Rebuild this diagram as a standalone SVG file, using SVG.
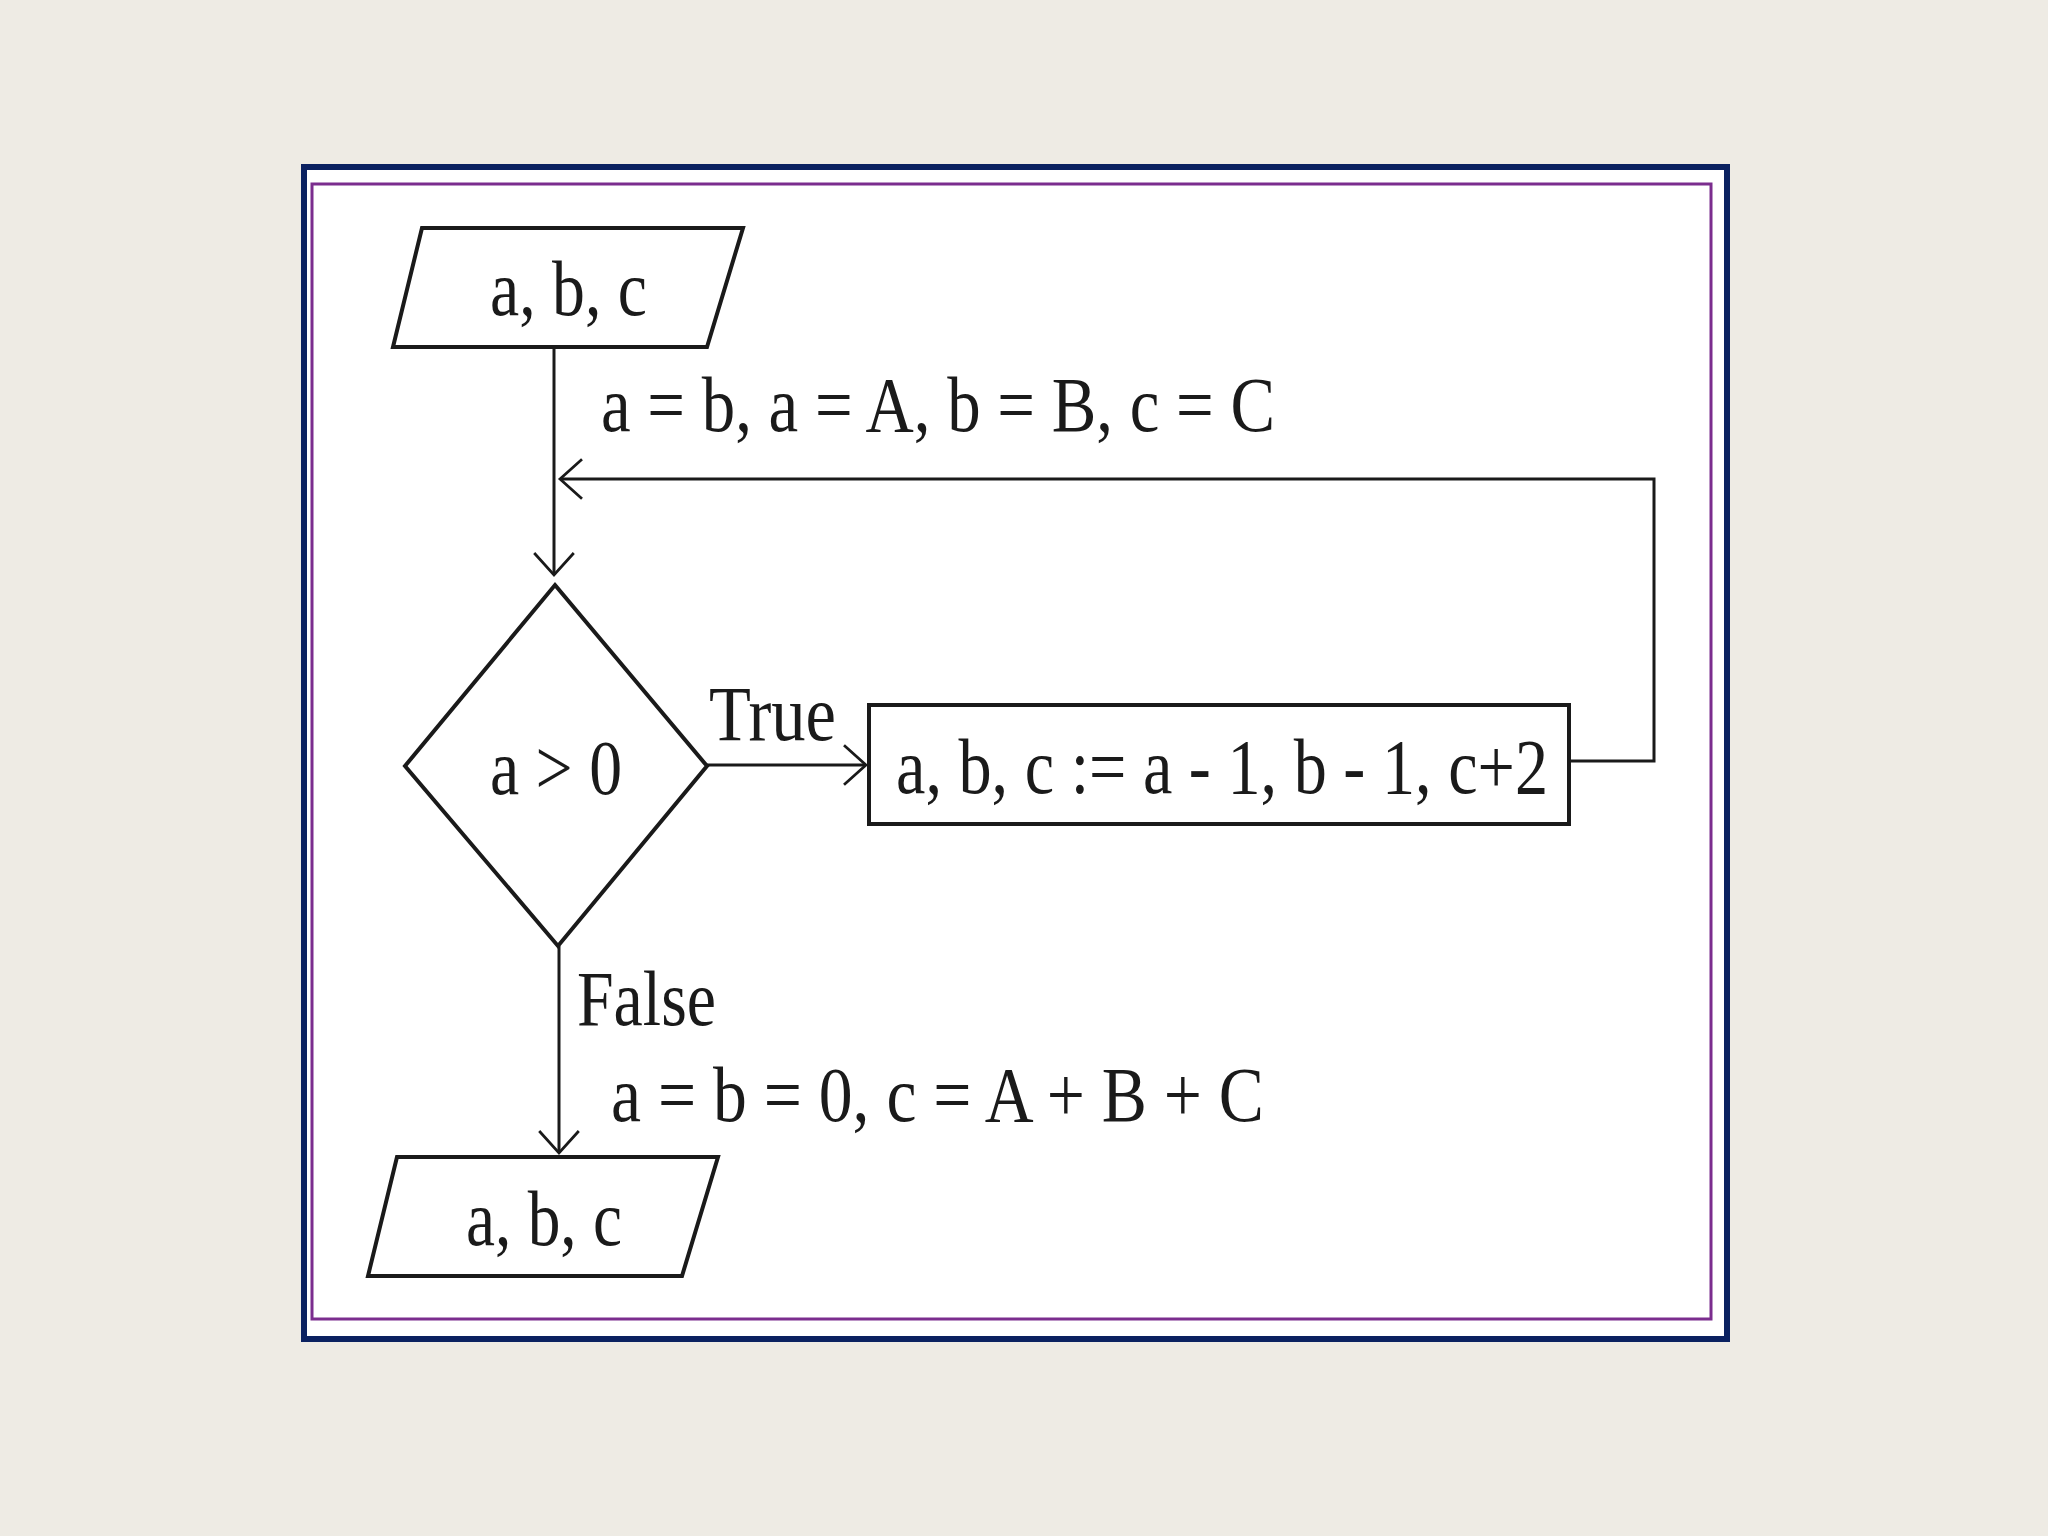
<svg xmlns="http://www.w3.org/2000/svg" width="2048" height="1536" viewBox="0 0 2048 1536">
<defs>
<style>
.shape{fill:#ffffff;stroke:#1a1a1a;stroke-width:4}
.conn{fill:none;stroke:#1a1a1a;stroke-width:3}
.t{font-family:"Liberation Serif","DejaVu Serif",serif;font-size:78px;fill:#1a1a1a}
</style>
<marker id="arr" markerUnits="userSpaceOnUse" markerWidth="44" markerHeight="44" viewBox="-2 -2 26 40" refX="20" refY="18" orient="auto">
<path d="M0,0 L20,18 L0,36" fill="none" stroke="#1a1a1a" stroke-width="2.5"/>
</marker>
</defs>
<rect x="0" y="0" width="2048" height="1536" fill="#eeebe4"/>
<rect x="304" y="167" width="1423" height="1172" fill="#ffffff" stroke="#0b2160" stroke-width="6"/>
<rect x="312" y="184" width="1399" height="1135" fill="#ffffff" stroke="#7b2d8e" stroke-width="3"/>

<g id="connectors">
<path class="conn" d="M554,347 V575" marker-end="url(#arr)"/>
<path class="conn" d="M1569,761 H1654 V479 H560" marker-end="url(#arr)"/>
<path class="conn" d="M707,765 H866" marker-end="url(#arr)"/>
<path class="conn" d="M559,946 V1153" marker-end="url(#arr)"/>
<text class="t" x="601" y="431" textLength="674" lengthAdjust="spacingAndGlyphs">a = b, a = A, b = B, c = C</text>
<text class="t" x="709" y="740" textLength="127" lengthAdjust="spacingAndGlyphs">True</text>
<text class="t" x="577" y="1025" textLength="139" lengthAdjust="spacingAndGlyphs">False</text>
<text class="t" x="611" y="1121" textLength="653" lengthAdjust="spacingAndGlyphs">a = b = 0, c = A + B + C</text>
</g>

<g id="input">
<polygon class="shape" points="422,228 743,228 707,347 393,347"/>
<text class="t" x="490" y="315" textLength="157" lengthAdjust="spacingAndGlyphs">a, b, c</text>
</g>

<g id="decision">
<polygon class="shape" points="555,585 707,766 558,946 405,766"/>
<text class="t" x="490" y="794" textLength="132" lengthAdjust="spacingAndGlyphs">a &gt; 0</text>
</g>

<g id="process">
<rect class="shape" x="869" y="705" width="700" height="119"/>
<text class="t" x="896" y="793" textLength="652" lengthAdjust="spacingAndGlyphs">a, b, c := a - 1, b - 1, c+2</text>
</g>

<g id="output">
<polygon class="shape" points="397,1157 718,1157 682,1276 368,1276"/>
<text class="t" x="466" y="1245" textLength="156" lengthAdjust="spacingAndGlyphs">a, b, c</text>
</g>
</svg>
